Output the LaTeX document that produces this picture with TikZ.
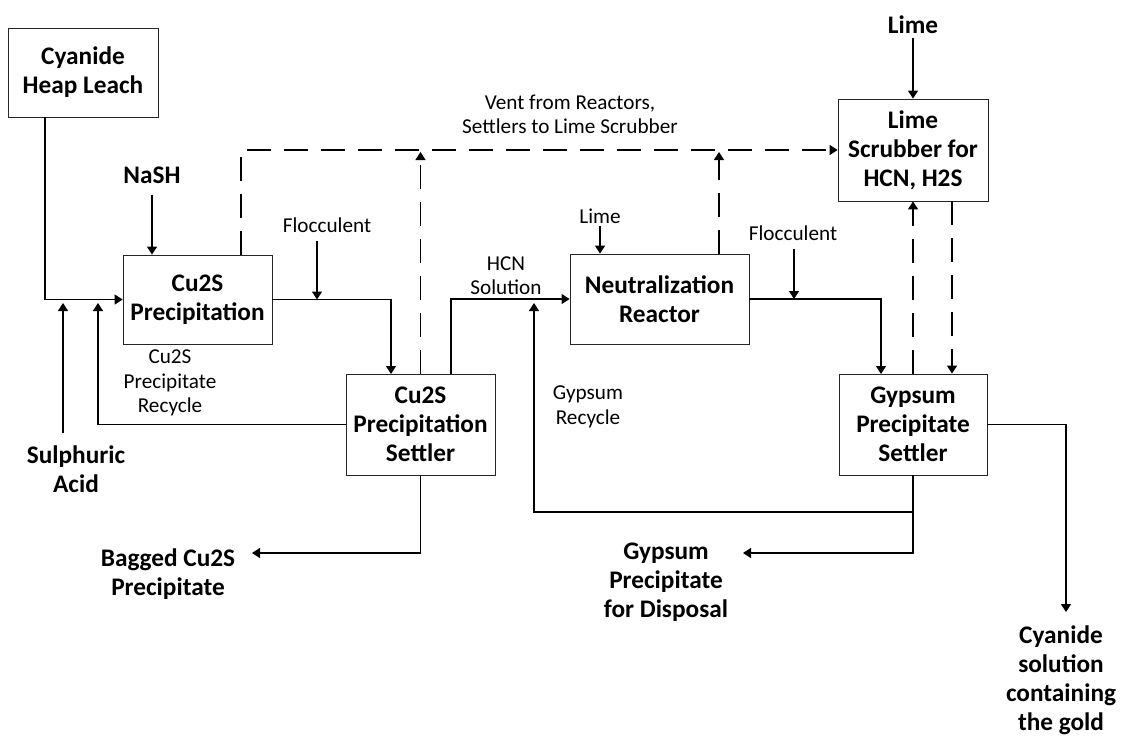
\documentclass[tikz,border=0pt]{standalone}
\usepackage{fontspec}
\setmainfont{Carlito}
\usetikzlibrary{arrows.meta,calc,positioning}

\begin{document}
\begin{tikzpicture}[x=1pt,y=-1pt,
  unit/.style={draw=black!85,line width=0.8pt,align=center,inner sep=0pt,
    font=\fontsize{25.3}{29}\selectfont\bfseries},
  feed/.style={align=center,inner sep=0pt,font=\fontsize{25.3}{29}\selectfont\bfseries},
  note/.style={align=center,inner sep=0pt,font=\fontsize{21.2}{24.5}\selectfont},
  flow/.style={line width=1.3pt,-{Triangle[width=10pt,length=8pt]}},
  vent/.style={flow,dash pattern=on 24pt off 13pt}]

\useasboundingbox (0,0) rectangle (1122,736);

\node[unit,minimum width=150pt,minimum height=89pt] (leach) at (83,72.5) {Cyanide\\Heap Leach};
\node[unit,minimum width=149pt,minimum height=89pt] (cupre) at (197.5,299.5) {Cu2S\\Precipitation};
\node[unit,minimum width=149pt,minimum height=101pt] (cuset) at (420.5,424.5) {Cu2S\\Precipitation\\Settler};
\node[unit,minimum width=179pt,minimum height=90pt] (neut) at (659.5,299) {Neutralization\\Reactor};
\node[unit,minimum width=150pt,minimum height=102pt] (scrub) at (913,150) {Lime\\Scrubber for\\HCN, H2S};
\node[unit,minimum width=148pt,minimum height=101pt] (gyset) at (913,424.5) {Gypsum\\Precipitate\\Settler};

\node[feed] (nash) at (152,175) {NaSH};
\node[note] (floc1) at (327,225) {Flocculent};
\node[note] (cunote) at (170,383) {Cu2S\\Precipitate\\Recycle};
\node[feed] (acid) at (76,469) {Sulphuric\\Acid};
\node[feed] (bagged) at (168,574) {Bagged Cu2S\\Precipitate};
\node[note] (hcn) at (506,275.5) {HCN\\Solution};
\node[note] (lime1) at (600,216) {Lime};
\node[note] (ventnote) at (570,114.5) {Vent from Reactors,\\Settlers to Lime Scrubber};
\node[feed] (lime2) at (913,25) {Lime};
\node[note] (floc2) at (793,233) {Flocculent};
\node[note] (gynote) at (588,407) {Gypsum\\Recycle};
\node[feed] (disposal) at (666,582) {Gypsum\\Precipitate\\for Disposal};
\node[feed] (cyanide) at (1061,680) {Cyanide\\solution\\containing\\the gold};

\coordinate (mix) at (45,299.5);
\coordinate (acidin) at (63,303);
\coordinate (cuin) at (98,303);
\coordinate (vent) at (241,150);
\coordinate (f1) at (317,299.5);
\coordinate (setin) at (391,374);
\coordinate (hcnup) at (451,374);
\coordinate (grin) at (534,303);
\coordinate (grb) at (534,512);
\coordinate (neutvent) at (719,254);
\coordinate (f2) at (794,299);
\coordinate (gyin) at (881,374);
\coordinate (scrubdown) at (952,201);
\coordinate (cyout) at (1066,612);
\coordinate (dispout) at (743,553);
\coordinate (bagout) at (252,553);

% liquor train
\draw[flow] (leach.south -| mix) |- (cupre.west);
\draw[flow,shorten <=12pt] (acid.north -| acidin) -- (acidin);
\draw[flow] (cuset.west) -| (cuin);
\draw[flow,shorten <=11pt] (nash.south) -- (nash.south |- cupre.north);
\draw[flow,shorten <=8pt] (floc1.south -| f1) -- (f1);
\draw[flow] (cupre.east) -| (setin);
\draw[flow] (cuset.north -| hcnup) |- (neut.west);
\draw[flow,shorten <=2pt] (lime1.south) -- (lime1.south |- neut.north);
\draw[flow] (neut.east) -| (gyin);
\draw[flow,shorten <=8pt] (floc2.south -| f2) -- (f2);
\draw[flow,shorten <=4pt] (lime2.south) -- (scrub.north);

% products and recycles
\draw[flow] (cuset.south) |- (bagout);
\draw[flow] (gyset.south) |- (dispout);
\draw[flow] (gyset.south |- grb) -- (grb) -- (grin);
\draw[flow] (gyset.east) -| (cyout);

% vents
\draw[vent] (cupre.north -| vent) |- (scrub.west);
\draw[vent,shorten >=2pt] (cuset.north) -- (cuset.north |- vent);
\draw[vent,shorten >=2pt] (neutvent) -- (vent -| neutvent);
\draw[vent] (gyset.north) -- (scrub.south);
\draw[vent] (scrubdown) -- (gyset.north -| scrubdown);

\end{tikzpicture}
\end{document}
